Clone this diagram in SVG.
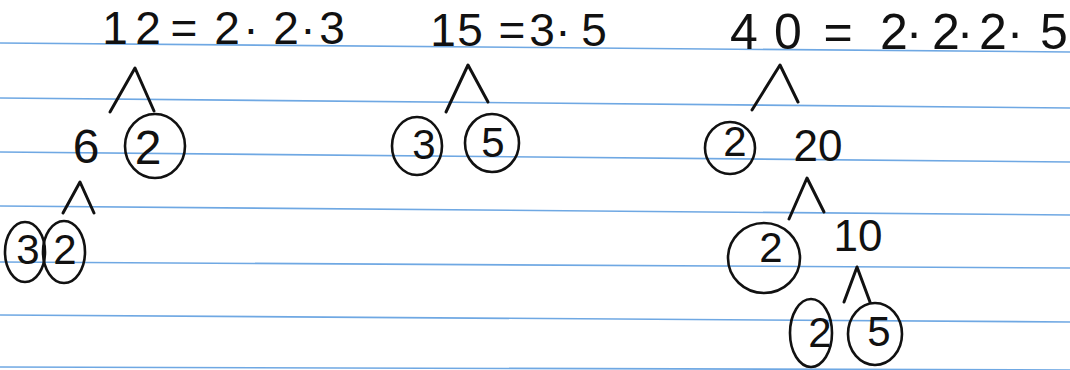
<svg xmlns="http://www.w3.org/2000/svg" width="1070" height="370" viewBox="0 0 1070 370">
<style>
.rule{stroke:#6fa8e3;stroke-width:1.6;fill:none}
.t{font-family:"Liberation Sans",Arial,sans-serif;fill:#111;text-anchor:middle}
.eq{font-size:46px}
.eqb{font-size:50px}
.d{font-size:48px}
.s{font-size:42px}
.ring{fill:none;stroke:#111;stroke-width:2.6}
.caret{fill:none;stroke:#111;stroke-width:3;stroke-linecap:round;stroke-linejoin:round}
</style>
<rect width="1070" height="370" fill="#ffffff"/>
<g id="paper">
<line class="rule" x1="0" y1="43" x2="1070" y2="52"/>
<line class="rule" x1="0" y1="98" x2="1070" y2="108"/>
<line class="rule" x1="0" y1="152" x2="1070" y2="162"/>
<line class="rule" x1="0" y1="206" x2="1070" y2="215"/>
<line class="rule" x1="0" y1="262" x2="1070" y2="268"/>
<line class="rule" x1="0" y1="315" x2="1070" y2="322"/>
<line class="rule" x1="0" y1="367" x2="1070" y2="370"/>
</g>
<g id="eq12"><text class="t eq" x="115 148 184 227 251 286 308 332" y="44">12=2·2·3</text></g>
<g id="eq15"><text class="t eq" x="443 470 512 542 563 594" y="46">15=3·5</text></g>
<g id="eq40"><text class="t eqb" x="744 788 838 894 914 946 965 993 1015 1054" y="49">40=2·2·2·5</text></g>
<g id="connectors">
<polyline class="caret" points="110,112 135,68 154,111"/>
<polyline class="caret" points="63,213 80,182 94,213"/>
<polyline class="caret" points="446,112 468,65 488,102"/>
<polyline class="caret" points="752,110 780,65 798,102"/>
<polyline class="caret" points="789,219 807,178 824,212"/>
<polyline class="caret" points="844,302 857,267 870,302"/>
</g>
<g id="n6"><text class="t d" x="86" y="163">6</text></g>
<g id="n2a"><ellipse class="ring" cx="155" cy="146" rx="30" ry="32"/><text class="t d" x="148" y="164">2</text></g>
<g id="n3a"><ellipse class="ring" cx="25" cy="252" rx="20" ry="30"/><text class="t s" x="28" y="264">3</text></g>
<g id="n2b"><ellipse class="ring" cx="64" cy="252" rx="21" ry="31"/><text class="t s" x="65" y="264">2</text></g>
<g id="n3c"><ellipse class="ring" cx="417" cy="146" rx="25" ry="29"/><text class="t s" x="424" y="159">3</text></g>
<g id="n5c"><ellipse class="ring" cx="492" cy="143" rx="27" ry="29"/><text class="t s" x="493" y="157">5</text></g>
<g id="n2d"><ellipse class="ring" cx="730" cy="148" rx="25" ry="26"/><text class="t s" x="735" y="156">2</text></g>
<g id="n20"><text class="t" style="font-size:44px" x="818" y="161">20</text></g>
<g id="n2e"><ellipse class="ring" cx="764" cy="258" rx="36" ry="35"/><text class="t s" x="771" y="262">2</text></g>
<g id="n10"><text class="t" style="font-size:44px" x="858" y="251">10</text></g>
<g id="n2f"><ellipse class="ring" cx="811" cy="333" rx="21" ry="34"/><text class="t s" x="820" y="347">2</text></g>
<g id="n5f"><ellipse class="ring" cx="875" cy="334" rx="27" ry="31"/><text class="t s" x="879" y="346">5</text></g>
</svg>
